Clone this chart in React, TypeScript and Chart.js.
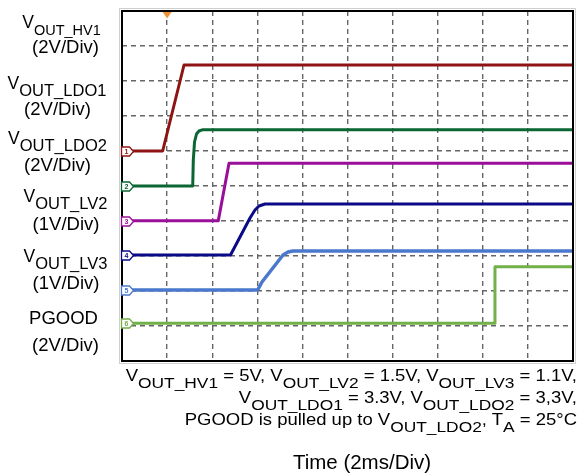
import React, { useEffect, useRef } from "react";
import { Chart, registerables } from "chart.js";

Chart.register(...registerables);

// Axis extent in scope divisions (10 x 10 grid)
const xDivs = [0, 10];
const yDivs = [0, 10];
const triggerTime = 1; // division of trigger marker

// Channel traces (x in time divisions, y in vertical divisions)
const ch1X = [0, 0.902, 1.375, 10];
const ch1Y = [6.0, 6.0, 8.457, 8.457];
const ch2X = [0, 1.568, 1.581, 1.608, 1.652, 1.707, 1.796, 10];
const ch2Y = [5.0, 5.0, 5.743, 6.257, 6.486, 6.571, 6.609, 6.609];
const ch3X = [0, 2.135, 2.373, 10];
const ch3Y = [4.01, 4.01, 5.649, 5.649];
const ch4X = [0, 2.406, 2.838, 2.949, 3.038, 3.171, 10];
const ch4Y = [3.03, 3.03, 4.086, 4.314, 4.429, 4.486, 4.486];
const ch5X = [0, 3.009, 3.104, 3.57, 3.681, 3.792, 10];
const ch5Y = [2.03, 2.03, 2.257, 3.029, 3.114, 3.143, 3.143];
const ch6X = [0, 8.27, 8.27, 10];
const ch6Y = [1.08, 1.08, 2.694, 2.694];

const channelNames = ["V_{OUT_HV1}", "V_{OUT_LDO1}", "V_{OUT_LDO2}", "V_{OUT_LV2}", "V_{OUT_LV3}", "PGOOD"];
const channelScales = ["(2V/Div)", "(2V/Div)", "(2V/Div)", "(1V/Div)", "(1V/Div)", "(2V/Div)"];
const channelTags = ["1", "2", "3", "4", "5", "6"];
const noteLines = [
  "V_{OUT_HV1} = 5V, V_{OUT_LV2} = 1.5V, V_{OUT_LV3} = 1.1V,",
  "V_{OUT_LDO1} = 3.3V, V_{OUT_LDO2} = 3,3V,",
  "PGOOD is pulled up to V_{OUT_LDO2}, T_{A} = 25°C",
];
const xAxisTitle = "Time (2ms/Div)";

const channelColors = ["#8E1414", "#0B6633", "#990F99", "#0A0A86", "#4A78CC", "#72B04A"];

const series = [
  { x: ch1X, y: ch1Y },
  { x: ch2X, y: ch2Y },
  { x: ch3X, y: ch3Y },
  { x: ch4X, y: ch4Y },
  { x: ch5X, y: ch5Y },
  { x: ch6X, y: ch6Y },
];

const FONT = '"Liberation Sans", Arial, Helvetica, sans-serif';

function parseRich(s: string): Array<[string, boolean]> {
  const out: Array<[string, boolean]> = [];
  const re = /_\{([^}]*)\}/g;
  let last = 0;
  let m: RegExpExecArray | null;
  while ((m = re.exec(s)) !== null) {
    if (m.index > last) out.push([s.slice(last, m.index), false]);
    out.push([m[1], true]);
    last = m.index + m[0].length;
  }
  if (last < s.length) out.push([s.slice(last), false]);
  return out;
}

function RichLine(props: {
  text: string;
  x: number;
  y: number;
  align: "left" | "center" | "right";
  size: number;
  subSize: number;
  subShift: number;
  stretch?: number;
}) {
  const { text, x, y, align, size, subSize, subShift } = props;
  const stretch = props.stretch ?? 1;
  const parts = parseRich(text);
  const shift = align === "center" ? "translateX(-50%)" : align === "right" ? "translateX(-100%)" : "";
  const style: React.CSSProperties = {
    position: "absolute",
    left: x,
    top: y - 0.8465 * size,
    fontSize: size,
    lineHeight: `${size}px`,
    fontFamily: FONT,
    whiteSpace: "pre",
    color: "#000",
    transformOrigin: align === "right" ? "100% 0" : align === "center" ? "50% 0" : "0 0",
    transform: `${shift} scaleX(${stretch})`,
  };
  return (
    <div style={style}>
      {parts.map(([t, sub], i) =>
        sub ? (
          <span key={i} style={{ fontSize: subSize, position: "relative", top: subShift }}>
            {t}
          </span>
        ) : (
          <span key={i}>{t}</span>
        )
      )}
    </div>
  );
}

const scopePlugin = {
  id: "scopeDecor",
  afterDraw(chart: any) {
    const { ctx, chartArea, scales } = chart;
    const { left, top, right, bottom } = chartArea;
    ctx.save();
    ctx.strokeStyle = "#cfcfcf";
    ctx.lineWidth = 1;
    ctx.strokeRect(left - 2.5, top - 2.5, right - left + 5, bottom - top + 5);
    ctx.strokeStyle = "#000";
    ctx.lineWidth = 2;
    ctx.strokeRect(left, top, right - left, bottom - top);

    // trigger marker
    const tx = scales.x.getPixelForValue(triggerTime);
    ctx.fillStyle = "#F0913A";
    ctx.beginPath();
    ctx.moveTo(tx - 4.5, top + 1);
    ctx.lineTo(tx + 4.5, top + 1);
    ctx.lineTo(tx, top + 7.5);
    ctx.closePath();
    ctx.fill();

    // channel tags
    series.forEach((s, i) => {
      const y = Math.round(scales.y.getPixelForValue(s.y[0])) + 0.5;
      const x0 = left - 0.5;
      ctx.beginPath();
      ctx.moveTo(x0, y - 4.5);
      ctx.lineTo(x0 + 8, y - 4.5);
      ctx.lineTo(x0 + 12, y);
      ctx.lineTo(x0 + 8, y + 4.5);
      ctx.lineTo(x0, y + 4.5);
      ctx.closePath();
      ctx.fillStyle = "#fff";
      ctx.fill();
      ctx.strokeStyle = channelColors[i];
      ctx.lineWidth = 1.3;
      ctx.stroke();
      ctx.fillStyle = channelColors[i];
      ctx.font = `bold 7px ${FONT}`;
      ctx.textAlign = "center";
      ctx.textBaseline = "middle";
      ctx.fillText(channelTags[i], x0 + 5, y + 0.5);
    });
    ctx.restore();
  },
};

export default function App() {
  const canvasRef = useRef<HTMLCanvasElement | null>(null);

  useEffect(() => {
    const canvas = canvasRef.current;
    if (!canvas) return;
    const gridCommon = {
      color: "#666666",
      lineWidth: 1.4,
      drawTicks: false,
    };
    const chart = new Chart(canvas, {
      type: "scatter",
      data: {
        datasets: series.map((s, i) => ({
          data: s.x.map((xv, j) => ({ x: xv, y: s.y[j] })),
          showLine: true,
          borderColor: channelColors[i],
          backgroundColor: channelColors[i],
          borderWidth: i === 4 ? 3.5 : 3,
          pointRadius: 0,
          tension: 0,
          borderJoinStyle: "round" as const,
        })),
      },
      options: {
        animation: false,
        responsive: false,
        maintainAspectRatio: false,
        layout: { padding: { left: 122, top: 11, right: 7, bottom: 113 } },
        plugins: { legend: { display: false }, tooltip: { enabled: false } },
        scales: {
          x: {
            type: "linear",
            min: xDivs[0],
            max: xDivs[1],
            ticks: { display: false, stepSize: 1 },
            grid: gridCommon,
            border: { display: false, dash: [5, 4] },
          },
          y: {
            type: "linear",
            min: yDivs[0],
            max: yDivs[1],
            ticks: { display: false, stepSize: 1 },
            grid: gridCommon,
            border: { display: false, dash: [5, 4] },
          },
        },
      },
      plugins: [scopePlugin],
    });
    return () => chart.destroy();
  }, []);

  const nameLayout = [
    [61.5, 29],
    [57, 89.5],
    [57.5, 145],
    [65.5, 203],
    [65.5, 263],
    [63.5, 325],
  ];
  const nameSubSizes = [14.5, 16.5, 16.5, 16.5, 16.5, 16.5];
  const scaleLayout = [
    [65.5, 53.5],
    [57.5, 116],
    [57.5, 172],
    [66, 231],
    [66, 290],
    [65.5, 352],
  ];
  const noteBaselines = [380.5, 403, 424.5];

  return (
    <div style={{ position: "fixed", left: 0, top: 0, width: 580, height: 474, background: "#fff", overflow: "hidden" }}>
      <canvas ref={canvasRef} width={580} height={474} style={{ position: "absolute", left: 0, top: 0, width: 580, height: 474 }} />
      {channelNames.map((n, i) => (
        <RichLine key={"n" + i} text={n} x={nameLayout[i][0]} y={nameLayout[i][1]} align="center" size={i === 5 ? 18.5 : 17.5} subSize={nameSubSizes[i]} subShift={7} />
      ))}
      {channelScales.map((n, i) => (
        <RichLine key={"s" + i} text={n} x={scaleLayout[i][0]} y={scaleLayout[i][1]} align="center" size={18.5} subSize={15} subShift={7} />
      ))}
      {noteLines.map((n, i) => (
        <RichLine key={"l" + i} text={n} x={577} y={noteBaselines[i]} align="right" size={16.5} subSize={15.5} subShift={7} stretch={1.12} />
      ))}
      <RichLine text={xAxisTitle} x={362} y={469} align="center" size={20.5} subSize={16} subShift={7} />
    </div>
  );
}
